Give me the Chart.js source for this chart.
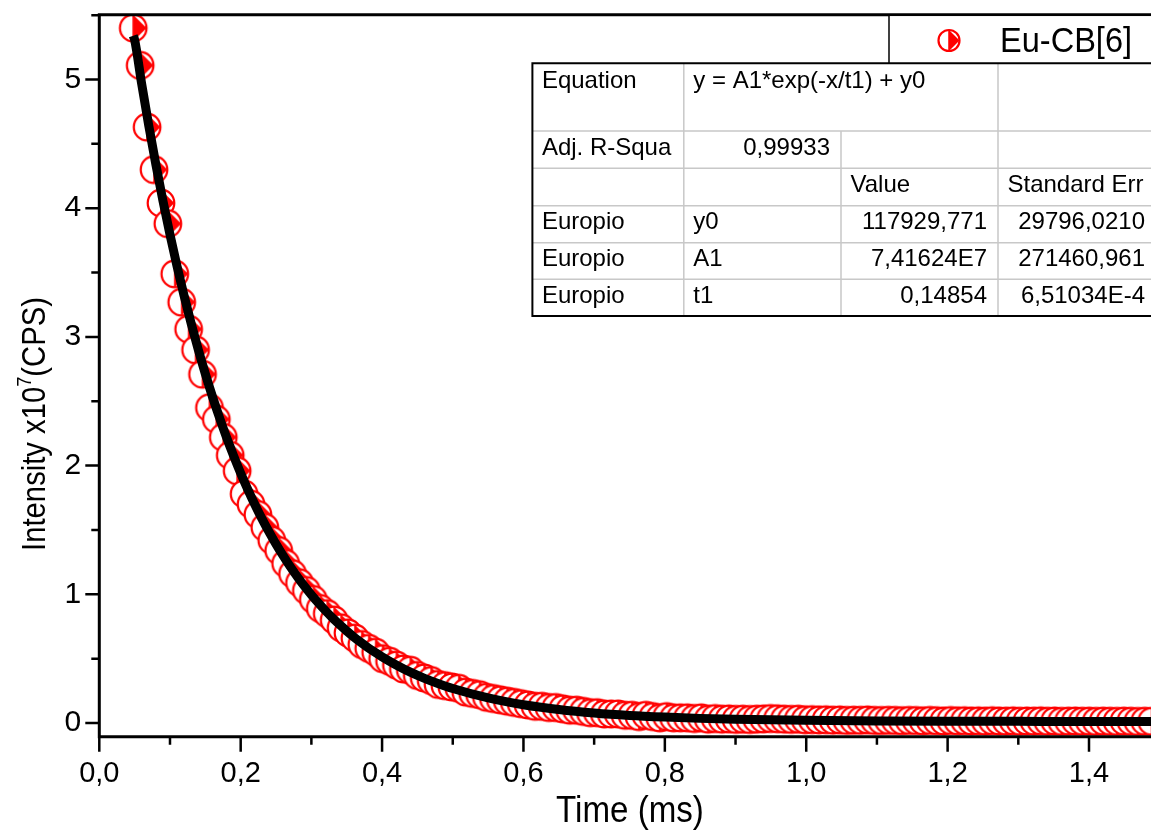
<!DOCTYPE html>
<html>
<head>
<meta charset="utf-8">
<script src="https://cdn.jsdelivr.net/npm/chart.js@4/dist/chart.umd.min.js"></script>
<style>
  html, body { margin: 0; padding: 0; background: #fff; overflow: hidden; }
  canvas { display: block; }
</style>
</head>
<body>
<canvas id="chart" width="1151" height="831"></canvas>
<script>
// measured decay, x = time (ms), y = intensity (x10^7 CPS)
const times = [
  0.0480, 0.0578, 0.0676, 0.0774, 0.0872, 0.0970, 0.1068, 0.1166, 0.1264, 0.1362,
  0.1460, 0.1558, 0.1656, 0.1754, 0.1852, 0.1950, 0.2048, 0.2146, 0.2244, 0.2342,
  0.2440, 0.2538, 0.2636, 0.2734, 0.2832, 0.2930, 0.3028, 0.3126, 0.3224, 0.3322,
  0.3420, 0.3518, 0.3616, 0.3714, 0.3812, 0.3910, 0.4008, 0.4106, 0.4204, 0.4302,
  0.4400, 0.4498, 0.4596, 0.4694, 0.4792, 0.4890, 0.4988, 0.5086, 0.5184, 0.5282,
  0.5380, 0.5478, 0.5576, 0.5674, 0.5772, 0.5870, 0.5968, 0.6066, 0.6164, 0.6262,
  0.6360, 0.6458, 0.6556, 0.6654, 0.6752, 0.6850, 0.6948, 0.7046, 0.7144, 0.7242,
  0.7340, 0.7438, 0.7536, 0.7634, 0.7732, 0.7830, 0.7928, 0.8026, 0.8124, 0.8222,
  0.8320, 0.8418, 0.8516, 0.8614, 0.8712, 0.8810, 0.8908, 0.9006, 0.9104, 0.9202,
  0.9300, 0.9398, 0.9496, 0.9594, 0.9692, 0.9790, 0.9888, 0.9986, 1.0084, 1.0182,
  1.0280, 1.0378, 1.0476, 1.0574, 1.0672, 1.0770, 1.0868, 1.0966, 1.1064, 1.1162,
  1.1260, 1.1358, 1.1456, 1.1554, 1.1652, 1.1750, 1.1848, 1.1946, 1.2044, 1.2142,
  1.2240, 1.2338, 1.2436, 1.2534, 1.2632, 1.2730, 1.2828, 1.2926, 1.3024, 1.3122,
  1.3220, 1.3318, 1.3416, 1.3514, 1.3612, 1.3710, 1.3808, 1.3906, 1.4004, 1.4102,
  1.4200, 1.4298, 1.4396, 1.4494, 1.4592, 1.4690, 1.4788, 1.4886
];
const intensity = [
  5.40, 5.11, 4.63, 4.30, 4.04, 3.88, 3.49, 3.27, 3.06, 2.90,
  2.71, 2.45, 2.36, 2.22, 2.08, 1.96, 1.78, 1.70, 1.62, 1.52,
  1.42, 1.34, 1.24, 1.16, 1.09, 1.03, 0.96, 0.89, 0.85, 0.80,
  0.74, 0.70, 0.66, 0.61, 0.58, 0.55, 0.50, 0.48, 0.45, 0.42,
  0.41, 0.37, 0.35, 0.33, 0.30, 0.29, 0.28, 0.27, 0.24, 0.23,
  0.22, 0.20, 0.19, 0.18, 0.17, 0.16, 0.15, 0.14, 0.13, 0.13,
  0.12, 0.12, 0.11, 0.10, 0.10, 0.09, 0.08, 0.08, 0.07, 0.07,
  0.07, 0.06, 0.06, 0.05, 0.06, 0.05, 0.04, 0.05, 0.04, 0.04,
  0.040, 0.035, 0.040, 0.030, 0.035, 0.030, 0.032, 0.028, 0.030, 0.027,
  0.030, 0.032, 0.035, 0.033, 0.030, 0.028, 0.030, 0.025, 0.026, 0.024,
  0.025, 0.022, 0.024, 0.020, 0.022, 0.021, 0.024, 0.020, 0.019, 0.021,
  0.020, 0.018, 0.020, 0.019, 0.017, 0.020, 0.018, 0.016, 0.019, 0.017,
  0.018, 0.016, 0.017, 0.015, 0.018, 0.016, 0.015, 0.017, 0.014, 0.016,
  0.015, 0.017, 0.014, 0.016, 0.013, 0.015, 0.016, 0.014, 0.015, 0.013,
  0.015, 0.014, 0.013, 0.015, 0.014, 0.012, 0.014, 0.013
];

// fitted curve
const fitTimes = [
  0.048, 0.05, 0.06, 0.07, 0.08, 0.09, 0.10, 0.11, 0.12, 0.13, 0.14, 0.15,
  0.16, 0.17, 0.18, 0.19, 0.20, 0.21, 0.22, 0.23, 0.24, 0.25, 0.26, 0.27,
  0.28, 0.29, 0.30, 0.31, 0.32, 0.33, 0.34, 0.35, 0.36, 0.37, 0.38, 0.39,
  0.40, 0.42, 0.44, 0.46, 0.48, 0.50, 0.55, 0.60, 0.65, 0.70, 0.75, 0.80,
  0.85, 0.90, 1.00, 1.10, 1.20, 1.30, 1.40, 1.50
];
const fitValues = [
  5.340, 5.308, 4.964, 4.641, 4.340, 4.058, 3.795, 3.548, 3.318, 3.103, 2.901, 2.713,
  2.537, 2.373, 2.219, 2.076, 1.941, 1.816, 1.698, 1.588, 1.486, 1.390, 1.300, 1.216,
  1.138, 1.064, 0.996, 0.932, 0.872, 0.816, 0.764, 0.715, 0.669, 0.626, 0.586, 0.549,
  0.514, 0.451, 0.395, 0.347, 0.305, 0.268, 0.195, 0.142, 0.105, 0.078, 0.059, 0.046,
  0.036, 0.029, 0.021, 0.016, 0.014, 0.013, 0.012, 0.012
];

const seriesName = 'Eu-CB[6]';
const xMajorTicks = [0, 0.2, 0.4, 0.6, 0.8, 1.0, 1.2, 1.4];
const xMinorTicks = [0.1, 0.3, 0.5, 0.7, 0.9, 1.1, 1.3];
const yMajorTicks = [0, 1, 2, 3, 4, 5];
const yMinorTicks = [0.5, 1.5, 2.5, 3.5, 4.5, 5.5];

const tableText = [
  ['Equation', 'y = A1*exp(-x/t1) + y0', '', ''],
  ['Adj. R-Squa', '0,99933', '', ''],
  ['', '', 'Value', 'Standard Err'],
  ['Europio', 'y0', '117929,771', '29796,0210'],
  ['Europio', 'A1', '7,41624E7', '271460,961'],
  ['Europio', 't1', '0,14854', '6,51034E-4']
];
const tableAlign = [
  ['l', 'l', 'l', 'l'],
  ['l', 'r', 'l', 'l'],
  ['l', 'l', 'l', 'l'],
  ['l', 'l', 'r', 'r'],
  ['l', 'l', 'r', 'r'],
  ['l', 'l', 'r', 'r']
];

const FONT = '"Liberation Sans", Arial, Helvetica, sans-serif';
const RED = '#ff0000';

// half-filled circle marker
function drawMarker(ctx, cx, cy, r, lw) {
  ctx.save();
  ctx.fillStyle = '#fff';
  ctx.beginPath();
  ctx.arc(cx, cy, r, 0, Math.PI * 2);
  ctx.fill();
  ctx.fillStyle = RED;
  ctx.beginPath();
  ctx.moveTo(cx, cy - r);
  ctx.lineTo(cx + r, cy);
  ctx.lineTo(cx, cy + r);
  ctx.closePath();
  ctx.fill();
  ctx.strokeStyle = RED;
  ctx.lineWidth = lw;
  ctx.beginPath();
  ctx.arc(cx, cy, r, 0, Math.PI * 2);
  ctx.stroke();
  ctx.lineWidth = lw * 0.7;
  ctx.beginPath();
  ctx.moveTo(cx, cy - r);
  ctx.lineTo(cx, cy + r);
  ctx.stroke();
  ctx.restore();
}

const markerImg = document.createElement('canvas');
markerImg.width = 32;
markerImg.height = 32;
drawMarker(markerImg.getContext('2d'), 16, 16, 13.3, 2.2);

function condensedText(ctx, text, x, y, size, sx, align) {
  ctx.save();
  ctx.font = size + 'px ' + FONT;
  const w = ctx.measureText(text).width * sx;
  let x0 = x;
  if (align === 'center') x0 = x - w / 2;
  if (align === 'right') x0 = x - w;
  ctx.translate(x0, y);
  ctx.scale(sx, 1);
  ctx.textAlign = 'left';
  ctx.fillText(text, 0, 0);
  ctx.restore();
  return w;
}

const framePlugin = {
  id: 'frame',
  afterDraw(chart) {
    const { ctx, chartArea: a, scales: { x, y } } = chart;
    ctx.save();
    ctx.strokeStyle = '#000';
    ctx.fillStyle = '#000';
    ctx.lineWidth = 3;
    ctx.beginPath();
    ctx.moveTo(a.left, a.top);
    ctx.lineTo(a.left, a.bottom + 1.5);
    ctx.moveTo(a.left - 1.5, a.bottom);
    ctx.lineTo(a.right, a.bottom);
    ctx.moveTo(a.left - 1.5, a.top);
    ctx.lineTo(a.right, a.top);
    ctx.stroke();

    ctx.lineWidth = 2.5;
    ctx.beginPath();
    xMajorTicks.forEach(v => { const p = x.getPixelForValue(v); ctx.moveTo(p, a.bottom); ctx.lineTo(p, a.bottom + 15); });
    xMinorTicks.forEach(v => { const p = x.getPixelForValue(v); ctx.moveTo(p, a.bottom); ctx.lineTo(p, a.bottom + 8); });
    yMajorTicks.forEach(v => { const p = y.getPixelForValue(v); ctx.moveTo(a.left - 14, p); ctx.lineTo(a.left, p); });
    yMinorTicks.forEach(v => { const p = y.getPixelForValue(v); ctx.moveTo(a.left - 8, p); ctx.lineTo(a.left, p); });
    ctx.stroke();

    // axis titles
    ctx.textBaseline = 'alphabetic';
    condensedText(ctx, 'Time (ms)', 630, 822, 36, 0.92, 'center');

    ctx.save();
    ctx.translate(45, 424);
    ctx.rotate(-Math.PI / 2);
    const sx = 0.86;
    ctx.font = '34px ' + FONT;
    const w1 = ctx.measureText('Intensity x10').width * sx;
    ctx.font = '21px ' + FONT;
    const w2 = ctx.measureText('7').width * sx;
    ctx.font = '34px ' + FONT;
    const w3 = ctx.measureText('(CPS)').width * sx;
    let px = -(w1 + w2 + w3) / 2;
    condensedText(ctx, 'Intensity x10', px, 0, 34, sx, 'left');
    px += w1;
    condensedText(ctx, '7', px, -14, 21, sx, 'left');
    px += w2;
    condensedText(ctx, '(CPS)', px, 0, 34, sx, 'left');
    ctx.restore();

    // legend box
    ctx.fillStyle = '#fff';
    ctx.fillRect(889, a.top + 1.5, chart.width - 889, 63.3 - a.top - 1.5);
    ctx.strokeStyle = '#000';
    ctx.lineWidth = 1.5;
    ctx.beginPath();
    ctx.moveTo(889, a.top);
    ctx.lineTo(889, 63.3);
    ctx.stroke();
    drawMarker(ctx, 949, 40.5, 10.5, 2.2);
    ctx.fillStyle = '#000';
    condensedText(ctx, seriesName, 1000, 52, 35, 0.93, 'left');

    // fit table
    const cols = [532.4, 683.8, 841, 998, 1156];
    const rows = [63.3, 131, 168.3, 205.7, 242.7, 279.3, 316];
    ctx.fillStyle = '#fff';
    ctx.fillRect(cols[0], rows[0], cols[4] - cols[0], rows[6] - rows[0]);
    ctx.strokeStyle = '#c8c8c8';
    ctx.lineWidth = 1.5;
    ctx.beginPath();
    for (let r = 1; r < rows.length - 1; r++) {
      ctx.moveTo(cols[0], rows[r]);
      ctx.lineTo(cols[4], rows[r]);
    }
    for (let c = 1; c < cols.length - 1; c++) {
      for (let r = 0; r < rows.length - 1; r++) {
        if (r === 0 && c === 2) continue;
        ctx.moveTo(cols[c], rows[r]);
        ctx.lineTo(cols[c], rows[r + 1]);
      }
    }
    ctx.stroke();
    ctx.strokeStyle = '#000';
    ctx.lineWidth = 2;
    ctx.beginPath();
    ctx.moveTo(cols[4], rows[0]);
    ctx.lineTo(cols[0], rows[0]);
    ctx.lineTo(cols[0], rows[6]);
    ctx.lineTo(cols[4], rows[6]);
    ctx.stroke();

    ctx.fillStyle = '#000';
    ctx.font = '24px ' + FONT;
    ctx.textBaseline = 'alphabetic';
    tableText.forEach((row, r) => {
      const base = rows[r] + (r === 0 ? 25 : 23.5);
      row.forEach((t, c) => {
        if (!t) return;
        if (tableAlign[r][c] === 'r') {
          ctx.textAlign = 'right';
          ctx.fillText(t, cols[c + 1] - 11, base);
        } else {
          ctx.textAlign = 'left';
          ctx.fillText(t, cols[c] + 9.5, base);
        }
      });
    });
    ctx.restore();
  }
};

new Chart(document.getElementById('chart'), {
  type: 'scatter',
  data: {
    datasets: [
      {
        label: 'fit',
        data: fitTimes.map((t, i) => ({ x: t, y: fitValues[i] })),
        showLine: true,
        borderColor: '#000',
        borderWidth: 9,
        pointRadius: 0,
        cubicInterpolationMode: 'monotone',
        fill: false,
        order: 0
      },
      {
        label: seriesName,
        data: times.map((t, i) => ({ x: t, y: intensity[i] })),
        pointStyle: markerImg,
        pointRadius: 14,
        showLine: false,
        order: 1
      }
    ]
  },
  options: {
    responsive: false,
    animation: false,
    events: [],
    layout: { autoPadding: false, padding: { top: 14.7, right: 0, bottom: 0, left: 0 } },
    plugins: { legend: { display: false }, tooltip: { enabled: false } },
    scales: {
      x: {
        type: 'linear',
        min: 0,
        max: 1.4877,
        grid: { display: false, drawTicks: false },
        border: { display: false },
        ticks: {
          stepSize: 0.2,
          includeBounds: false,
          autoSkip: false,
          maxRotation: 0,
          padding: 20,
          color: '#000',
          font: { family: FONT, size: 29 },
          callback: v => v.toFixed(1).replace('.', ',')
        },
        afterFit: s => { s.height = 94.3; s.paddingLeft = 0; s.paddingRight = 0; }
      },
      y: {
        type: 'linear',
        min: -0.1064,
        max: 5.5035,
        grid: { display: false, drawTicks: false },
        border: { display: false },
        ticks: {
          stepSize: 1,
          includeBounds: false,
          padding: 18,
          color: '#000',
          font: { family: FONT, size: 30 },
          callback: v => String(v)
        },
        afterFit: s => { s.width = 99.3; s.paddingTop = 0; s.paddingBottom = 0; }
      }
    }
  },
  plugins: [framePlugin]
});
</script>
</body>
</html>
